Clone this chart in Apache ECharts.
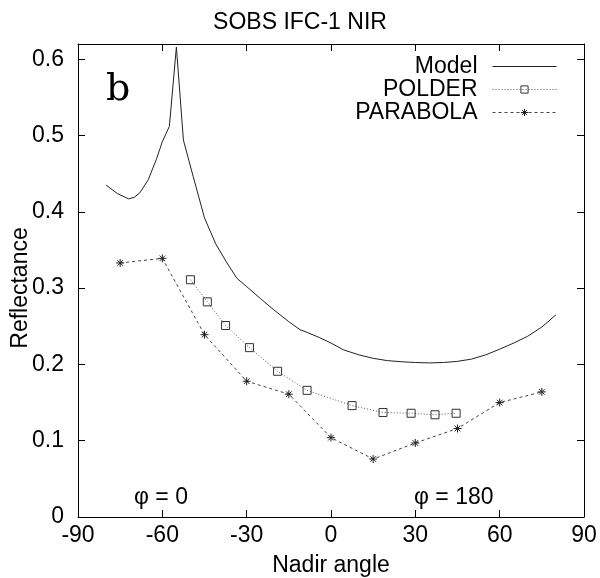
<!DOCTYPE html>
<html><head><meta charset="utf-8">
<script src="https://cdn.jsdelivr.net/npm/echarts@6/dist/echarts.min.js"></script>
<style>html,body{margin:0;padding:0;background:#fff}#c{width:600px;height:578px}</style>
</head><body><div id="c"></div>
<script>
// ---- data ----
const titleText = 'SOBS IFC-1 NIR';
const xAxisName = 'Nadir angle';
const yAxisName = 'Reflectance';
const seriesNames = ['Model', 'POLDER', 'PARABOLA'];

const modelX = [-80, -76, -72, -70, -68, -65, -62, -60, -57.5, -55, -52.5, -49, -45, -41, -37, -33.5, -30, -25, -20.5, -15, -11, -8.5, -4, 0, 4.5, 10, 15, 20, 25, 30, 35, 40, 45, 50, 55, 60, 65, 70, 75, 80];
const modelY = [0.435, 0.424, 0.417, 0.419, 0.425, 0.442, 0.470, 0.492, 0.512, 0.616, 0.494, 0.446, 0.392, 0.358, 0.333, 0.313, 0.302, 0.286, 0.272, 0.256, 0.2455, 0.242, 0.235, 0.228, 0.219, 0.2125, 0.208, 0.205, 0.2035, 0.2025, 0.202, 0.2025, 0.204, 0.207, 0.2125, 0.220, 0.228, 0.237, 0.249, 0.265];

const polderX = [-50, -44, -37.5, -29, -19, -8.5, 7.5, 18.5, 28.5, 37, 44.5];
const polderY = [0.311, 0.282, 0.251, 0.222, 0.191, 0.166, 0.146, 0.137, 0.136, 0.134, 0.136];

const parabolaX = [-75, -60, -45, -30, -15, 0, 15, 30, 45, 60, 75];
const parabolaY = [0.333, 0.339, 0.239, 0.178, 0.161, 0.104, 0.076, 0.097, 0.116, 0.150, 0.164];

const annotations = [
  { text: 'b', x: 106, y: 90, family: 'DejaVu Serif', size: 38 },
  { text: 'φ = 0', x: 134, y: 498, family: 'Liberation Sans', size: 23 },
  { text: 'φ = 180', x: 414, y: 498, family: 'Liberation Sans', size: 23 }
];

const pairs = (xs, ys) => xs.map((x, i) => [x, ys[i]]);
const FONT = 'Liberation Sans';
const FS = 23;
const starPath = 'path://M0,4L8,4M4,0L4,8M1.2,1.2L6.8,6.8M6.8,1.2L1.2,6.8';

const axisCommon = {
  axisLine: { show: true, onZero: false, lineStyle: { color: '#000', width: 1 } },
  axisTick: { show: true, inside: true, length: 7, lineStyle: { color: '#000' } },
  splitLine: { show: false }
};

const chart = echarts.init(document.getElementById('c'), null, { renderer: 'canvas' });
chart.setOption({
  backgroundColor: '#fff',
  animation: false,
  textStyle: { fontFamily: FONT },
  title: {
    text: titleText, left: 'center', top: 6,
    textStyle: { fontFamily: FONT, fontSize: FS, fontWeight: 'normal', color: '#000' }
  },
  grid: { left: 78, right: 16, top: 44, bottom: 61, containLabel: false, outerBoundsMode: 'none' },
  legend: {
    data: seriesNames,
    orient: 'vertical', align: 'right',
    right: 43, top: 55, padding: 0,
    itemWidth: 64, itemHeight: 9, itemGap: 0,
    textStyle: { fontFamily: FONT, fontSize: FS, color: '#000', lineHeight: 22.5, padding: [0, 10, 0, 0] },
    lineStyle: { width: 1 },
    itemStyle: { borderWidth: 1 },
    selectedMode: false
  },
  xAxis: [
    Object.assign({
      type: 'value', min: -90, max: 90, interval: 30, position: 'bottom',
      name: xAxisName, nameLocation: 'middle', nameGap: 37, nameMoveOverlap: false,
      nameTextStyle: { fontFamily: FONT, fontSize: FS, color: '#000' },
      axisLabel: { fontFamily: FONT, fontSize: FS, color: '#000', margin: 7 }
    }, axisCommon),
    Object.assign({
      type: 'value', min: -90, max: 90, interval: 30, position: 'top',
      axisLabel: { show: false }
    }, axisCommon)
  ],
  yAxis: [
    Object.assign({
      type: 'value', min: 0, max: 0.62, interval: 0.1, position: 'left',
      name: yAxisName, nameLocation: 'middle', nameGap: 46, nameRotate: 90, nameMoveOverlap: false,
      nameTextStyle: { fontFamily: FONT, fontSize: FS, color: '#000', padding: [0, 15, 0, 0] },
      axisLabel: {
        fontFamily: FONT, fontSize: FS, color: '#000', margin: 14,
        formatter: v => (v > 0.605 ? '' : String(Math.round(v * 10) / 10))
      }
    }, axisCommon),
    Object.assign({
      type: 'value', min: 0, max: 0.62, interval: 0.1, position: 'right',
      axisLabel: { show: false }
    }, axisCommon)
  ],
  series: [
    {
      name: seriesNames[0], type: 'line', data: pairs(modelX, modelY),
      showSymbol: false, symbol: 'none',
      lineStyle: { color: '#222', width: 1, type: 'solid' },
      itemStyle: { color: 'rgba(0,0,0,0)', borderColor: 'rgba(0,0,0,0)' }
    },
    {
      name: seriesNames[1], type: 'line', data: pairs(polderX, polderY),
      symbol: 'rect', symbolSize: 8,
      lineStyle: { color: '#555', width: 1, type: [1, 2] },
      itemStyle: { color: 'rgba(0,0,0,0)', borderColor: '#333', borderWidth: 1 }
    },
    {
      name: seriesNames[2], type: 'line', data: pairs(parabolaX, parabolaY),
      symbol: starPath, symbolSize: 8,
      lineStyle: { color: '#444', width: 1, type: [3, 3] },
      itemStyle: { color: 'rgba(0,0,0,0)', borderColor: '#222', borderWidth: 1 }
    }
  ],
  graphic: annotations.map(a => ({
    type: 'text', x: a.x, y: a.y,
    style: { text: a.text, fontFamily: a.family, fontSize: a.size, fill: '#000', verticalAlign: 'middle' }
  }))
});
</script>
</body></html>
